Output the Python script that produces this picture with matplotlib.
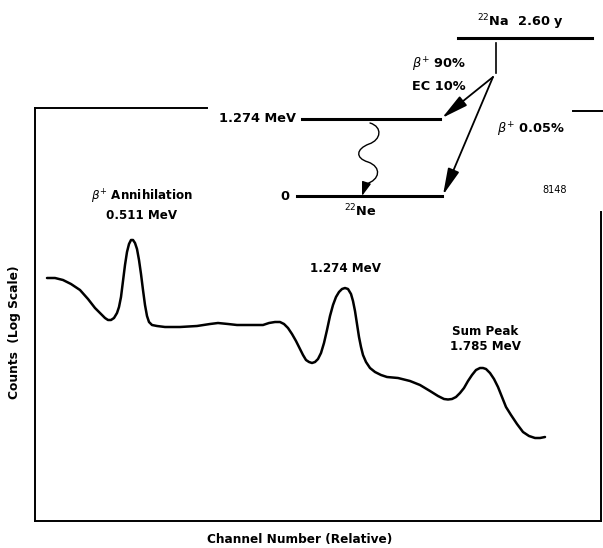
import matplotlib
matplotlib.use('Agg')
import matplotlib.pyplot as plt
from matplotlib.path import Path
from matplotlib.patches import FancyArrowPatch

plt.rcParams['font.family'] = ['DejaVu Sans']
plt.rcParams['mathtext.fontset'] = 'dejavusans'

# gamma spectrum of 22Na (relative channel, relative log counts)
channel = [12, 20, 28, 36, 45, 53, 60, 66, 70, 73, 76, 79, 82, 84, 86, 88, 90, 92, 94,
           96, 98, 100, 102, 104, 106, 108, 110, 112, 114, 117, 122, 130, 145, 162,
           175, 183, 193, 202, 215, 228, 234, 240, 245, 249, 253, 257, 261, 265, 268,
           271, 274, 277, 280, 283, 286, 289, 292, 295, 298, 301, 304, 307, 310, 313,
           316, 318, 320, 322, 324, 326, 328, 331, 335, 340, 346, 352, 363, 375, 385,
           395, 403, 409, 413, 417, 421, 425, 429, 433, 437, 441, 445, 448, 451, 455,
           459, 463, 467, 471, 476, 482, 488, 494, 500, 505, 510]
log_counts = [243, 243, 241, 237, 231, 222, 213, 207, 203, 201, 201, 203, 208, 214, 224,
              240, 256, 269, 277, 281, 281, 278, 272, 261, 247, 231, 216, 205, 199, 196,
              195, 194, 194, 195, 197, 198, 197, 196, 196, 196, 198, 199, 199, 197, 193,
              187, 180, 172, 166, 161, 159, 158, 159, 162, 168, 178, 191, 205, 216, 224,
              229, 232, 233, 232, 227, 220, 210, 197, 184, 174, 166, 159, 153, 149, 146,
              144, 143, 140, 136, 130, 125, 122, 121.5, 122, 124, 128, 133, 140, 146, 151,
              153, 153, 152, 148, 142, 134, 124, 114, 106, 97, 89, 85, 83, 83, 84]

peak_labels = ['$\\beta^{+}$ Annihilation\n0.511 MeV', '1.274 MeV', 'Sum Peak\n1.785 MeV']

W, H = 603, 548
fig = plt.figure(figsize=(W / 100, H / 100), dpi=100)

# spectrum box
ax = fig.add_axes([35 / W, 27 / H, 566 / W, 413 / H])
ax.plot(channel, log_counts, color='black', lw=1.8,
        solid_capstyle='round', solid_joinstyle='round')
ax.set_xlim(0, 566)
ax.set_ylim(0, 413)
ax.set_xticks([])
ax.set_yticks([])
for s in ax.spines.values():
    s.set_linewidth(1.4)
ax.spines['top'].set_bounds(0, 172)
ax.spines['right'].set_bounds(0, 309)

# overlay in pixel units for the decay scheme and the labels
ov = fig.add_axes([0, 0, 1, 1])
ov.set_xlim(0, W)
ov.set_ylim(H, 0)
ov.axis('off')

ov.plot([573, 603], [111, 111], color='black', lw=1.4)

# energy levels
ov.plot([458, 592], [38, 38], color='black', lw=2.2)
ov.plot([496, 496], [43, 73], color='black', lw=1.2)
ov.plot([302, 440], [119, 119], color='black', lw=2.2)
ov.plot([297, 442], [196, 196], color='black', lw=2.2)

arrow = dict(arrowstyle='-|>,head_length=0.9,head_width=0.2', color='black', lw=1.3,
             shrinkA=0, shrinkB=0, mutation_scale=18)
ov.annotate('', xy=(442, 118), xytext=(493, 77), arrowprops=arrow)
ov.annotate('', xy=(443, 195), xytext=(493, 77), arrowprops=arrow)

# gamma transition (wavy arrow)
verts = [(370, 123), (383, 127), (381, 140), (369, 144),
         (356, 149), (355, 158), (368, 162),
         (382, 167), (380, 180), (366, 184), (362, 196)]
codes = [Path.MOVETO] + [Path.CURVE4] * 9 + [Path.LINETO]
ov.add_patch(FancyArrowPatch(path=Path(verts, codes),
                             arrowstyle='-|>,head_length=0.6,head_width=0.2',
                             mutation_scale=14, color='black', lw=1.0))

fs = 9.3
ov.text(520, 22, '$^{22}$Na  2.60 y', ha='center', va='center', fontsize=fs, fontweight='bold')
ov.text(439, 65, '$\\beta^{+}$ 90%', ha='center', va='center', fontsize=fs, fontweight='bold')
ov.text(439, 87, 'EC 10%', ha='center', va='center', fontsize=fs, fontweight='bold')
ov.text(296, 119, '1.274 MeV', ha='right', va='center', fontsize=fs, fontweight='bold')
ov.text(289, 196, '0', ha='right', va='center', fontsize=fs, fontweight='bold')
ov.text(360, 211, '$^{22}$Ne', ha='center', va='center', fontsize=fs, fontweight='bold')
ov.text(497, 130, '$\\beta^{+}$ 0.05%', ha='left', va='center', fontsize=fs, fontweight='bold')
ov.text(555, 190, '8148', ha='center', va='center', fontsize=7)

lab_pos = [(142, 205), (346, 268), (485, 339)]
for (x, y), t in zip(lab_pos, peak_labels):
    ov.text(x, y, t, ha='center', va='center', fontsize=8.6, fontweight='bold',
            linespacing=1.25)

ov.text(15, 332, 'Counts  (Log Scale)', rotation=90, ha='center', va='center',
        fontsize=8.8, fontweight='bold')
ov.text(300, 539, 'Channel Number (Relative)', ha='center', va='center',
        fontsize=8.7, fontweight='bold')

fig.savefig('out.png', dpi=100)
